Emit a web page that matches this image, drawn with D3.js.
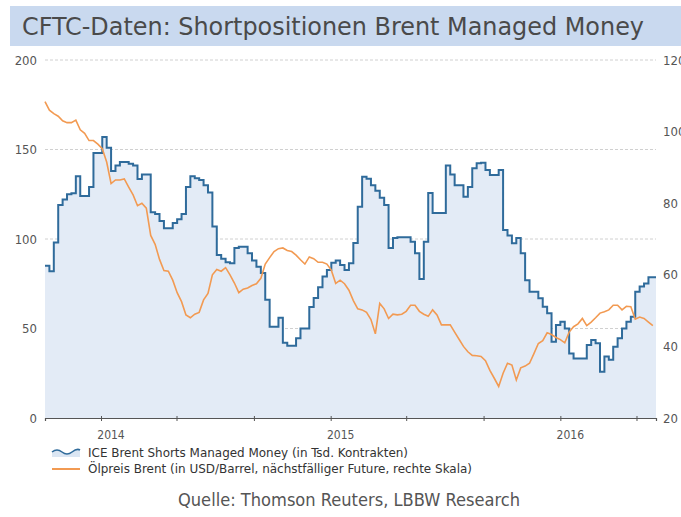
<!DOCTYPE html>
<html>
<head>
<meta charset="utf-8">
<script src="https://cdn.jsdelivr.net/npm/d3@7"></script>
<style>
  body { margin: 0; background: #fff; }
  svg text { font-family: "DejaVu Sans Condensed", "Liberation Sans Narrow", sans-serif; }
</style>
</head>
<body>
<div id="chart"></div>
<script>
// weekly observations, first week starts 2013-10-04
const startDate = new Date(2013, 9, 4);
const shortsValues = [
  85, 82, 98, 119, 122, 125, 125.5, 135, 124, 124,
  129, 148, 148, 157, 151, 138, 141, 143, 143, 142,
  141, 133.5, 136, 136, 115, 114, 110, 106, 106, 109,
  111, 114, 129, 135, 134, 133, 130, 126, 107, 91,
  89, 87, 86.5, 95, 95.7, 95.7, 92, 88, 84.5, 81,
  66, 51, 51, 56, 42, 40.4, 40.4, 44.6, 50, 50,
  62, 67, 73, 79, 82.7, 86.8, 88, 85.5, 82.7, 86.5,
  97.8, 118, 134.8, 133.6, 130, 127, 123, 119, 95, 100.5,
  101, 101, 101, 98.5, 92, 77.6, 98.5, 125.7, 114.5, 114.5,
  114.5, 141, 136, 130, 130, 123.6, 129, 139.5, 142.3, 142.6,
  138.5, 135.8, 135.8, 138.5, 105, 102, 97.6, 100.5, 92, 77,
  70.6, 70.6, 66.9, 62.2, 58.5, 42.6, 52, 53.8, 50, 36,
  33.3, 33.3, 33.3, 40.8, 43.6, 41.7, 25.9, 34.3, 32.6, 39.8,
  44.5, 50, 53.8, 56.6, 70.6, 73.4, 75.2, 78.6, 78.6
];
const brentValues = [
  108.4, 106, 105, 104.3, 103, 102.5, 102.5, 103.2, 100.5, 99.5,
  97.5, 97.5, 96.5, 95.2, 91.5, 85.5, 86.5, 86.5, 86.8, 84.5,
  82.3, 79.3, 80, 78.6, 71, 68.5, 64.3, 61.2, 61, 58.5,
  55, 52.5, 48.8, 48, 49, 49.5, 53, 54.8, 60, 61.5,
  61, 62, 60, 57.7, 55, 56, 56.3, 57, 57.5, 59,
  63, 64.8, 66.5, 67.3, 67.5, 66.8, 66.5, 65.5, 64.2, 63,
  65, 64.5, 63.5, 63.5, 63, 61.3, 57.6, 58.5, 57.5, 55.7,
  52.8, 50.5, 50.2, 49.5, 47.5, 43.5, 52, 50.5, 47.8, 49,
  48.8, 49, 49.8, 51.5, 51.5, 49.8, 49, 48.4, 50.2, 48.8,
  46, 46, 46, 44, 42, 40, 38.5, 37.5, 37.4, 37.2,
  36, 33.3, 31.1, 28.8, 32.5, 35.3, 34.8, 30.6, 34, 34.5,
  35.3, 38, 40.8, 41.6, 43.8, 43.3, 42.5, 41.9, 41, 44,
  45.5, 46.3, 47.8, 45.8, 46.8, 48, 49.3, 49.7, 50.2, 51.5,
  51.5, 50.2, 51.2, 51.1, 47.6, 48.2, 47.8, 46.8, 45.8
];
const leftTicks = [0, 50, 100, 150, 200];
const rightTicks = [20, 40, 60, 80, 100, 120];
const yearLabels = [2014, 2015, 2016];
const legendLabels = [
  "ICE Brent Shorts Managed Money (in Tsd. Kontrakten)",
  "Ölpreis Brent (in USD/Barrel, nächstfälliger Future, rechte Skala)"
];
const titleText = "CFTC-Daten: Shortpositionen Brent Managed Money";
const sourceText = "Quelle: Thomson Reuters, LBBW Research";

const width = 681, height = 517;
const margin = {top: 60, right: 25, bottom: 99, left: 45};
const innerW = width - margin.left - margin.right;
const innerH = height - margin.top - margin.bottom;

const dates = shortsValues.map((d, i) => d3.timeDay.offset(startDate, 7 * i));
const shorts = dates.map((d, i) => ({date: d, value: shortsValues[i]}));
const brent = dates.map((d, i) => ({date: d, value: brentValues[i]}));

const svg = d3.select("#chart").append("svg")
  .attr("width", width)
  .attr("height", height);

// title band
svg.append("rect")
  .attr("x", 10).attr("y", 6)
  .attr("width", width - 10).attr("height", 40)
  .attr("fill", "#c9d9ef");
svg.append("text")
  .attr("x", 22).attr("y", 35)
  .attr("font-size", 25)
  .attr("fill", "#4a4a4a")
  .attr("textLength", 622)
  .attr("lengthAdjust", "spacingAndGlyphs")
  .text(titleText);

const chart = svg.append("g")
  .attr("transform", `translate(${margin.left},${margin.top})`);

const x = d3.scaleTime()
  .domain([startDate, new Date(2016, 5, 1)])
  .range([0, innerW]);
const yLeft = d3.scaleLinear().domain([0, 200]).range([innerH, 0]);
const yRight = d3.scaleLinear().domain([20, 120]).range([innerH, 0]);

// gridlines
chart.selectAll(".grid")
  .data(leftTicks.filter(d => d > 0))
  .join("line")
  .attr("class", "grid")
  .attr("x1", 0).attr("x2", innerW)
  .attr("y1", d => yLeft(d)).attr("y2", d => yLeft(d))
  .attr("stroke", "#d0d0d0")
  .attr("stroke-dasharray", "3,2")
  .attr("stroke-width", 1);

// extend last weekly step to the chart edge
const stepData = shorts.concat([{date: x.domain()[1], value: shorts[shorts.length - 1].value}]);

const area = d3.area()
  .curve(d3.curveStepAfter)
  .x(d => x(d.date))
  .y0(innerH)
  .y1(d => yLeft(d.value));
chart.append("path")
  .datum(stepData)
  .attr("d", area)
  .attr("fill", "#e3ebf6");

const shortLine = d3.line()
  .curve(d3.curveStepAfter)
  .x(d => x(d.date))
  .y(d => yLeft(d.value));
chart.append("path")
  .datum(stepData)
  .attr("d", shortLine)
  .attr("fill", "none")
  .attr("stroke", "#2f6b9b")
  .attr("stroke-width", 2);

const brentLine = d3.line()
  .x(d => x(d.date))
  .y(d => yRight(d.value));
chart.append("path")
  .datum(brent)
  .attr("d", brentLine)
  .attr("fill", "none")
  .attr("stroke", "#f29a52")
  .attr("stroke-width", 1.6);

// x axis
const xAxis = d3.axisBottom(x)
  .ticks(d3.timeMonth.every(4))
  .tickSize(3)
  .tickFormat("");
const xAxisG = chart.append("g")
  .attr("transform", `translate(0,${innerH})`)
  .call(xAxis);
xAxisG.select(".domain").attr("stroke", "#555").attr("stroke-width", 1.2);
xAxisG.selectAll(".tick line").attr("stroke", "#555").attr("y1", -2);

chart.selectAll(".year-label")
  .data(yearLabels)
  .join("text")
  .attr("class", "year-label")
  .attr("x", d => x(new Date(d, 0, 1)) + 10)
  .attr("y", innerH + 21)
  .attr("text-anchor", "middle")
  .attr("font-size", 12)
  .attr("fill", "#555")
  .text(d => d);

// left axis
const yLeftAxis = d3.axisLeft(yLeft).tickValues(leftTicks).tickSize(0).tickPadding(8);
const yLeftG = chart.append("g").call(yLeftAxis);
yLeftG.select(".domain").remove();
yLeftG.selectAll("text").attr("font-size", 13).attr("fill", "#555")
  .style("font-family", "'DejaVu Sans Condensed', sans-serif");

// right axis
const yRightAxis = d3.axisRight(yRight).tickValues(rightTicks).tickSize(0).tickPadding(7);
const yRightG = chart.append("g")
  .attr("transform", `translate(${innerW},0)`)
  .call(yRightAxis);
yRightG.select(".domain").remove();
yRightG.selectAll("text").attr("font-size", 13).attr("fill", "#555")
  .style("font-family", "'DejaVu Sans Condensed', sans-serif");

// legend
const legend = svg.append("g").attr("transform", "translate(52,452)");
legend.append("path")
  .attr("d", "M0,0 Q5,-4 10,0 T20,0 T28,-2 L28,5 L0,5 Z")
  .attr("fill", "#dbe6f3");
legend.append("path")
  .attr("d", "M0,0 Q5,-4 10,0 T20,0 T28,-2")
  .attr("fill", "none")
  .attr("stroke", "#2f6b9b")
  .attr("stroke-width", 1.6);
legend.append("line")
  .attr("x1", 0).attr("x2", 28)
  .attr("y1", 17).attr("y2", 17)
  .attr("stroke", "#f29a52")
  .attr("stroke-width", 2);
legend.selectAll(".legend-text")
  .data(legendLabels)
  .join("text")
  .attr("class", "legend-text")
  .attr("x", 36)
  .attr("y", (d, i) => 5 + i * 16)
  .attr("font-size", 12)
  .attr("fill", "#333")
  .attr("textLength", (d, i) => i === 0 ? 320 : 384)
  .attr("lengthAdjust", "spacingAndGlyphs")
  .text(d => d);

// source
svg.append("text")
  .attr("x", 349).attr("y", 506)
  .attr("text-anchor", "middle")
  .attr("font-size", 17)
  .attr("fill", "#555")
  .attr("textLength", 342)
  .attr("lengthAdjust", "spacingAndGlyphs")
  .text(sourceText);
</script>
</body>
</html>
